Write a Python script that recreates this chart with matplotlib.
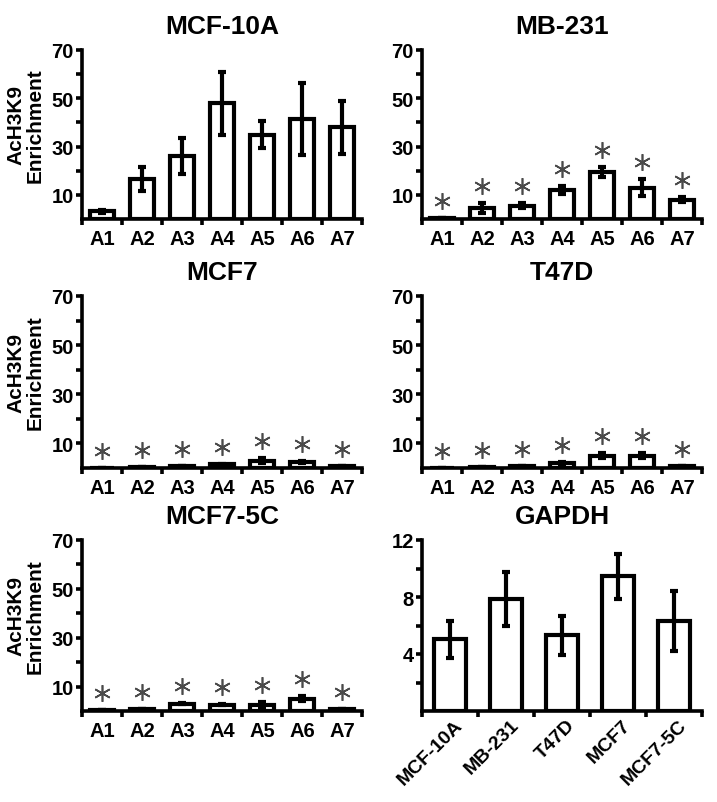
import matplotlib
matplotlib.use('Agg')
from matplotlib import pyplot as plt
import matplotlib.transforms as mtransforms
import numpy as np

plt.rcParams['font.family'] = ['Liberation Sans', 'DejaVu Sans']
plt.rcParams['font.weight'] = 'bold'

''' Data read off the figure '''
sites = ['A1', 'A2', 'A3', 'A4', 'A5', 'A6', 'A7']

mcf10a = [3.2, 16.5, 26.0, 48.0, 35.0, 41.5, 38.0]
mcf10a_err = [0.6, 5.0, 7.5, 13.0, 5.5, 15.0, 11.0]

mb231 = [0.4, 4.5, 5.5, 12.0, 19.5, 13.0, 8.0]
mb231_err = [0.0, 2.0, 1.0, 1.5, 2.0, 3.5, 1.0]

mcf7 = [0.2, 0.5, 0.8, 1.5, 3.0, 2.5, 0.8]
mcf7_err = [0.0, 0.0, 0.0, 0.2, 1.0, 0.5, 0.0]

t47d = [0.2, 0.5, 0.8, 2.0, 5.0, 5.0, 0.8]
t47d_err = [0.0, 0.0, 0.0, 0.3, 1.0, 1.0, 0.0]

mcf75c = [0.3, 0.8, 3.0, 2.5, 2.5, 5.0, 1.0]
mcf75c_err = [0.0, 0.0, 0.3, 0.2, 1.0, 1.0, 0.0]

cell_lines = ['MCF-10A', 'MB-231', 'T47D', 'MCF7', 'MCF7-5C']
gapdh = [5.05, 7.85, 5.3, 9.45, 6.3]
gapdh_err = [1.3, 1.9, 1.4, 1.6, 2.1]

''' Layout '''
fig = plt.figure(figsize=(7.17, 8.03), dpi=100)
W = 280 / 717
lefts = [82 / 717, 422 / 717]
rows = [(1 - 220 / 803, 169 / 803), (1 - 469 / 803, 172 / 803), (1 - 712 / 803, 171 / 803)]


def style_axes(ax, n, ymax, major, minor):
	for s in ['top', 'right']:
		ax.spines[s].set_visible(False)
	for s in ['left', 'bottom']:
		ax.spines[s].set_linewidth(2.6)
	ax.set_xlim(-0.5, n - 0.5)
	ax.set_ylim(0, ymax)
	ax.set_yticks(major)
	ax.set_yticks(minor, minor=True)
	ax.set_xticks(np.arange(n))
	ax.set_xticks(np.arange(n + 1) - 0.5, minor=True)
	ax.tick_params(axis='x', which='major', length=0, pad=7, labelsize=14.5)
	ax.tick_params(axis='x', which='minor', length=4, width=2.6, direction='out')
	ax.tick_params(axis='y', which='both', length=4, width=2.6, direction='out', pad=2, labelsize=14.5)


def bar_panel(ax, title, vals, errs, stars=True, ylabel=False):
	x = np.arange(len(vals))
	ax.bar(x, vals, width=0.58, color='white', edgecolor='black', linewidth=3, zorder=2)
	ax.errorbar(x, vals, yerr=errs, fmt='none', ecolor='black', elinewidth=3,
		capsize=3, capthick=3, zorder=3)
	style_axes(ax, len(vals), 70, [10, 30, 50, 70], [20, 40, 60])
	ax.set_xticklabels(sites)
	ax.set_title(title, fontsize=19, fontweight='bold', pad=12)
	if stars:
		tr = mtransforms.offset_copy(ax.transData, fig=fig, y=17, units='dots')
		tops = np.array(vals) + np.array(errs)
		ax.plot(x, tops, linestyle='none', marker=(6, 2, 0), markersize=12,
			markeredgewidth=1.2, color='#4a4a4a', transform=tr, clip_on=False, zorder=4)
	if ylabel:
		ax.set_ylabel('AcH3K9\nEnrichment', fontsize=15, fontweight='bold', linespacing=0.95)
		ax.yaxis.set_label_coords(-0.135, 0.56)


ax1 = fig.add_axes([lefts[0], rows[0][0], W, rows[0][1]])
bar_panel(ax1, 'MCF-10A', mcf10a, mcf10a_err, stars=False, ylabel=True)

ax2 = fig.add_axes([lefts[1], rows[0][0], W, rows[0][1]])
bar_panel(ax2, 'MB-231', mb231, mb231_err)

ax3 = fig.add_axes([lefts[0], rows[1][0], W, rows[1][1]])
bar_panel(ax3, 'MCF7', mcf7, mcf7_err, ylabel=True)

ax4 = fig.add_axes([lefts[1], rows[1][0], W, rows[1][1]])
bar_panel(ax4, 'T47D', t47d, t47d_err)

ax5 = fig.add_axes([lefts[0], rows[2][0], W, rows[2][1]])
bar_panel(ax5, 'MCF7-5C', mcf75c, mcf75c_err, ylabel=True)

''' GAPDH control '''
ax6 = fig.add_axes([lefts[1], rows[2][0], W, rows[2][1]])
xg = np.arange(len(gapdh))
ax6.bar(xg, gapdh, width=0.56, color='white', edgecolor='black', linewidth=3, zorder=2)
ax6.errorbar(xg, gapdh, yerr=gapdh_err, fmt='none', ecolor='black', elinewidth=3,
	capsize=3, capthick=3, zorder=3)
style_axes(ax6, len(gapdh), 12, [4, 8, 12], [2, 6, 10])
ax6.set_xticklabels(cell_lines, rotation=45, ha='right', va='center', rotation_mode='anchor')
ax6.tick_params(axis='x', which='major', pad=8, labelsize=14)
lab_off = mtransforms.ScaledTranslation(10 / 100, 0, fig.dpi_scale_trans)
for lab in ax6.get_xticklabels():
	lab.set_transform(lab.get_transform() + lab_off)
ax6.set_title('GAPDH', fontsize=19, fontweight='bold', pad=12)

plt.savefig('out.png', dpi=100)
